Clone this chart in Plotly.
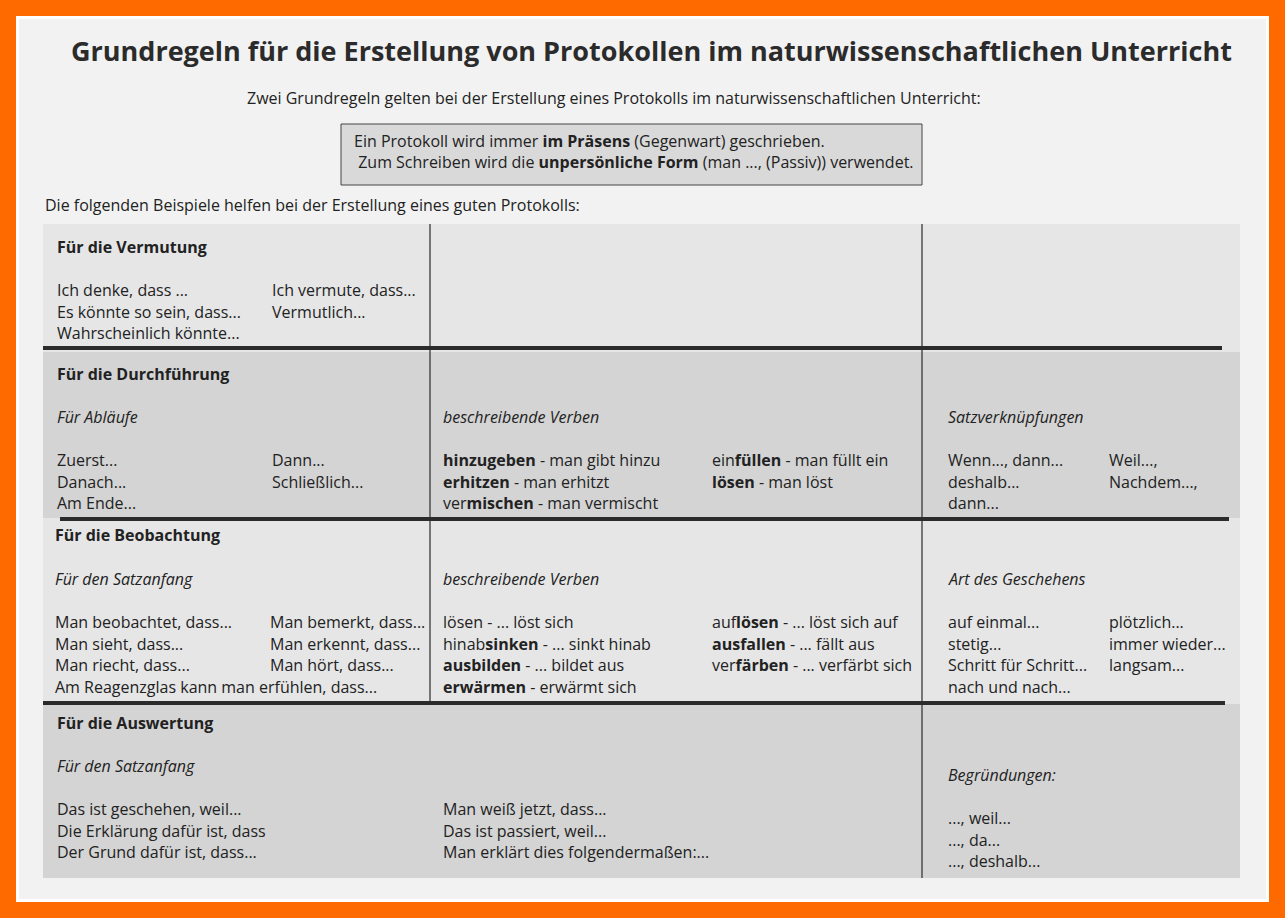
import plotly.graph_objects as go

W, H = 1285, 918

title = "Grundregeln für die Erstellung von Protokollen im naturwissenschaftlichen Unterricht"
subtitle = "Zwei Grundregeln gelten bei der Erstellung eines Protokolls im naturwissenschaftlichen Unterricht:"
box_lines = ["Ein Protokoll wird immer <b>im Präsens</b> (Gegenwart) geschrieben.",
             " Zum Schreiben wird die <b>unpersönliche Form</b> (man ..., (Passiv)) verwendet."]
intro = "Die folgenden Beispiele helfen bei der Erstellung eines guten Protokolls:"

headers = ["Für die Vermutung", "Für die Durchführung", "Für die Beobachtung", "Für die Auswertung"]

# (x, first line y, lines)
blocks = [
    (55, 290, ["Ich denke, dass ...", "Es könnte so sein, dass...", "Wahrscheinlich könnte..."]),
    (270, 290, ["Ich vermute, dass...", "Vermutlich..."]),
    (55, 460, ["Zuerst...", "Danach...", "Am Ende..."]),
    (270, 460, ["Dann...", "Schließlich..."]),
    (441, 460, ["<b>hinzugeben</b> - man gibt hinzu", "<b>erhitzen</b> - man erhitzt", "ver<b>mischen</b> - man vermischt"]),
    (710, 460, ["ein<b>füllen</b> - man füllt ein", "<b>lösen</b> - man löst"]),
    (946, 460, ["Wenn..., dann...", "deshalb...", "dann..."]),
    (1107, 460, ["Weil...,", "Nachdem...,"]),
    (53, 622, ["Man beobachtet, dass...", "Man sieht, dass...", "Man riecht, dass...",
               "Am Reagenzglas kann man erfühlen, dass..."]),
    (268, 622, ["Man bemerkt, dass...", "Man erkennt, dass...", "Man hört, dass..."]),
    (441, 622, ["lösen - ... löst sich", "hinab<b>sinken</b> - ... sinkt hinab",
                "<b>ausbilden</b> - ... bildet aus", "<b>erwärmen</b> - erwärmt sich"]),
    (710, 622, ["auf<b>lösen</b> - ... löst sich auf", "<b>ausfallen</b> - ... fällt aus",
                "ver<b>färben</b> - ... verfärbt sich"]),
    (946, 622, ["auf einmal...", "stetig...", "Schritt für Schritt...", "nach und nach..."]),
    (1107, 622, ["plötzlich...", "immer wieder...", "langsam..."]),
    (55, 809, ["Das ist geschehen, weil...", "Die Erklärung dafür ist, dass", "Der Grund dafür ist, dass..."]),
    (441, 809, ["Man weiß jetzt, dass...", "Das ist passiert, weil...", "Man erklärt dies folgendermaßen:..."]),
    (946, 818, ["..., weil...", "..., da...", "..., deshalb..."]),
]

subheads = [(55, 417, "Für Abläufe"), (441, 417, "beschreibende Verben"), (946, 417, "Satzverknüpfungen"),
            (53, 579, "Für den Satzanfang"), (441, 579, "beschreibende Verben"), (946, 579, "Art des Geschehens"),
            (55, 766, "Für den Satzanfang"), (946, 775, "Begründungen:")]
header_pos = [(55, 247), (55, 374), (53, 535), (55, 723)]

FONT = "Open Sans"
TXT = "#222222"
fig = go.Figure()
shapes = []
ann = []

def rect(x0, y0, x1, y1, fill, line=None, w=0):
    shapes.append(dict(type="rect", xref="x", yref="y", x0=x0, y0=y0, x1=x1, y1=y1, layer="below",
                       fillcolor=fill, line=dict(color=line or fill, width=w)))

def line(x0, y0, x1, y1, w, c="#2b2b2b"):
    shapes.append(dict(type="line", xref="x", yref="y", x0=x0, y0=y0, x1=x1, y1=y1, line=dict(color=c, width=w)))

def text(x, y, s, size=16, anchor="left", color=TXT):
    ann.append(dict(x=x, y=y, xref="x", yref="y", text=s, showarrow=False, xanchor=anchor, yanchor="middle",
                    font=dict(family=FONT, size=size, color=color)))

rect(0, 0, W, H, "#FF6A00")
rect(16, 16, W - 16, H - 16, "#ffffff")
rect(19, 19, W - 19, H - 19, "#f2f2f2")

bands = [(224, 352, "#e6e6e6"), (352, 518, "#d4d4d4"), (518, 704, "#e6e6e6"), (704, 878, "#d4d4d4")]
for y0, y1, c in bands:
    rect(43, y0, 1240, y1, c)

rect(341, 124, 922, 185, "#d9d9d9", "#444444", 1)

line(430, 224, 430, 704, 1.2)
line(922, 224, 922, 878, 1.2)
line(43, 348, 1222, 348, 4)
line(60, 519, 1229, 519, 4)
line(43, 703, 1225, 703, 4)

text(651, 50, "<b>" + title + "</b>", size=27, anchor="center", color="#2b2b2b")
text(614, 98, subtitle, size=16, anchor="center")
text(352, 141, box_lines[0])
text(352, 162, box_lines[1])
text(43, 205, intro)

for (x, y), h in zip(header_pos, headers):
    text(x, y, "<b>" + h + "</b>")
for x, y, s in subheads:
    text(x, y, "<i>" + s + "</i>")
for x, y0, lines in blocks:
    for i, s in enumerate(lines):
        text(x, y0 + i * 21.5, s)

fig.update_layout(width=W, height=H, margin=dict(l=0, r=0, t=0, b=0),
                  plot_bgcolor="#FF6A00", paper_bgcolor="#FF6A00",
                  xaxis=dict(range=[0, W], visible=False, fixedrange=True),
                  yaxis=dict(range=[H, 0], visible=False, fixedrange=True),
                  shapes=shapes, annotations=ann, showlegend=False)
fig.write_html("out.html", config={"displayModeBar": False},
               post_script="document.body.style.margin='0';document.body.style.overflow='hidden';")
